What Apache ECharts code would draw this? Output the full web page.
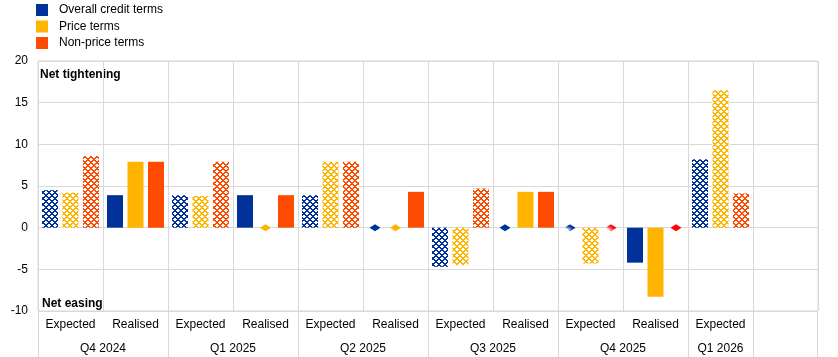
<!DOCTYPE html>
<html>
<head>
<meta charset="utf-8">
<script src="https://cdn.jsdelivr.net/npm/echarts@6/dist/echarts.min.js"></script>
<style>
html,body{margin:0;padding:0;background:#fff;}
#chart{width:838px;height:357px;}
</style>
</head>
<body>
<div id="chart"></div>
<script>
// ---- data ----
const categories = ['Expected','Realised','Expected','Realised','Expected','Realised','Expected','Realised','Expected','Realised','Expected',''];
const quarterLabels = ['Q4 2024','Q1 2025','Q2 2025','Q3 2025','Q4 2025','Q1 2026'];
const overall  = [4.5, 3.9, 3.9, 3.9, 3.9, 0, -4.7, 0, 0, -4.2, 8.2];
const price    = [4.2, 7.9, 3.8, 0, 7.9, 0, -4.5, 4.3, -4.3, -8.3, 16.5];
const nonPrice = [8.6, 7.9, 7.9, 3.9, 7.9, 4.3, 4.7, 4.3, 0, 0, 4.1];
const seriesNames = ['Overall credit terms','Price terms','Non-price terms'];
const yTicks = [-10, -5, 0, 5, 10, 15, 20];

const colors = ['#003299', '#ffb400', '#ff4b00'];
const zeroColors = ['#003299', '#ffb400', '#ff0000'];
const FONT = 'Liberation Sans, Arial, sans-serif';
const GRID = '#d9d9d9';

function makePattern(color) {
  const c = document.createElement('canvas');
  const n = 6;
  c.width = n; c.height = n;
  const ctx = c.getContext('2d');
  ctx.fillStyle = '#ffffff';
  ctx.fillRect(0, 0, n, n);
  ctx.fillStyle = color;
  for (let x = 0; x < n; x++) {
    for (let y = 0; y < n; y++) {
      if (((x + y) % n) < 2 || ((x - y + n) % n) < 2) ctx.fillRect(x, y, 1, 1);
    }
  }
  return { image: c, repeat: 'repeat' };
}

function isExpected(i) { return categories[i] === 'Expected'; }

function buildSeries(values, k) {
  const pat = makePattern(colors[k]);
  const zpat = makePattern(zeroColors[k]);
  const data = values.map((v, i) => ({
    value: v,
    itemStyle: isExpected(i) ? { color: pat } : { color: colors[k] }
  }));
  const marks = [];
  values.forEach((v, i) => {
    if (v === 0) {
      marks.push({
        coord: [i, 0],
        itemStyle: { color: isExpected(i) ? zpat : zeroColors[k] }
      });
    }
  });
  return {
    name: seriesNames[k],
    type: 'bar',
    xAxisIndex: 0,
    yAxisIndex: 0,
    barWidth: 16,
    barGap: '28%',
    itemStyle: { color: colors[k] },
    data: data,
    silent: true,
    markPoint: {
      symbol: 'diamond',
      symbolSize: [11, 7],
      label: { show: false },
      silent: true,
      animation: false,
      data: marks
    }
  };
}

// quarter axis in half-column units (0..24)
const qPos = [2, 6, 10, 14, 18, 21];
const qBounds = [0, 4, 8, 12, 16, 20, 22, 23.98];

const chart = echarts.init(document.getElementById('chart'), null, { renderer: 'canvas' });
chart.setOption({
  animation: false,
  textStyle: { fontFamily: FONT },
  legend: {
    orient: 'vertical',
    left: 36, top: 4, padding: 0,
    itemWidth: 12, itemHeight: 12, itemGap: 4.5,
    icon: 'rect',
    textStyle: { fontFamily: FONT, fontSize: 12, color: '#000', padding: [0, 0, 0, 6] },
    data: seriesNames
  },
  grid: { left: 38, right: 20, top: 61, bottom: 46, containLabel: false,
          show: true, borderColor: GRID, borderWidth: 1, backgroundColor: 'transparent' },
  xAxis: [
    {
      type: 'category',
      data: categories,
      position: 'bottom',
      boundaryGap: true,
      axisLine: { show: false },
      axisTick: { show: false },
      axisLabel: { interval: 0, margin: 8, fontFamily: FONT, fontSize: 12, color: '#000' },
      splitLine: { show: true, lineStyle: { color: GRID, width: 1 } }
    },
    {
      type: 'value',
      min: 0, max: 24,
      position: 'bottom',
      offset: 0,
      axisLine: { show: false },
      axisTick: {
        show: true, length: 46, inside: false,
        customValues: qBounds,
        lineStyle: { color: GRID, width: 1 }
      },
      axisLabel: {
        margin: 32, fontFamily: FONT, fontSize: 12, color: '#000',
        customValues: qPos,
        showMinLabel: true, showMaxLabel: true,
        formatter: function (v) {
          const i = qPos.indexOf(Math.round(v));
          return i >= 0 ? quarterLabels[i] : '';
        }
      },
      splitLine: { show: false }
    }
  ],
  yAxis: {
    type: 'value',
    min: yTicks[0], max: yTicks[yTicks.length - 1], interval: 5,
    axisLine: { show: false },
    axisTick: { show: false },
    axisLabel: { margin: 10, fontFamily: FONT, fontSize: 12, color: '#000' },
    splitLine: { show: true, lineStyle: { color: GRID, width: 1 } }
  },
  graphic: [
    { type: 'text', left: 40, top: 69, style: { text: 'Net tightening', font: 'bold 12px ' + FONT, fill: '#000' } },
    { type: 'text', left: 42, top: 298, style: { text: 'Net easing', font: 'bold 12px ' + FONT, fill: '#000' } }
  ],
  series: [
    buildSeries(overall, 0),
    buildSeries(price, 1),
    buildSeries(nonPrice, 2)
  ]
});
</script>
</body>
</html>
